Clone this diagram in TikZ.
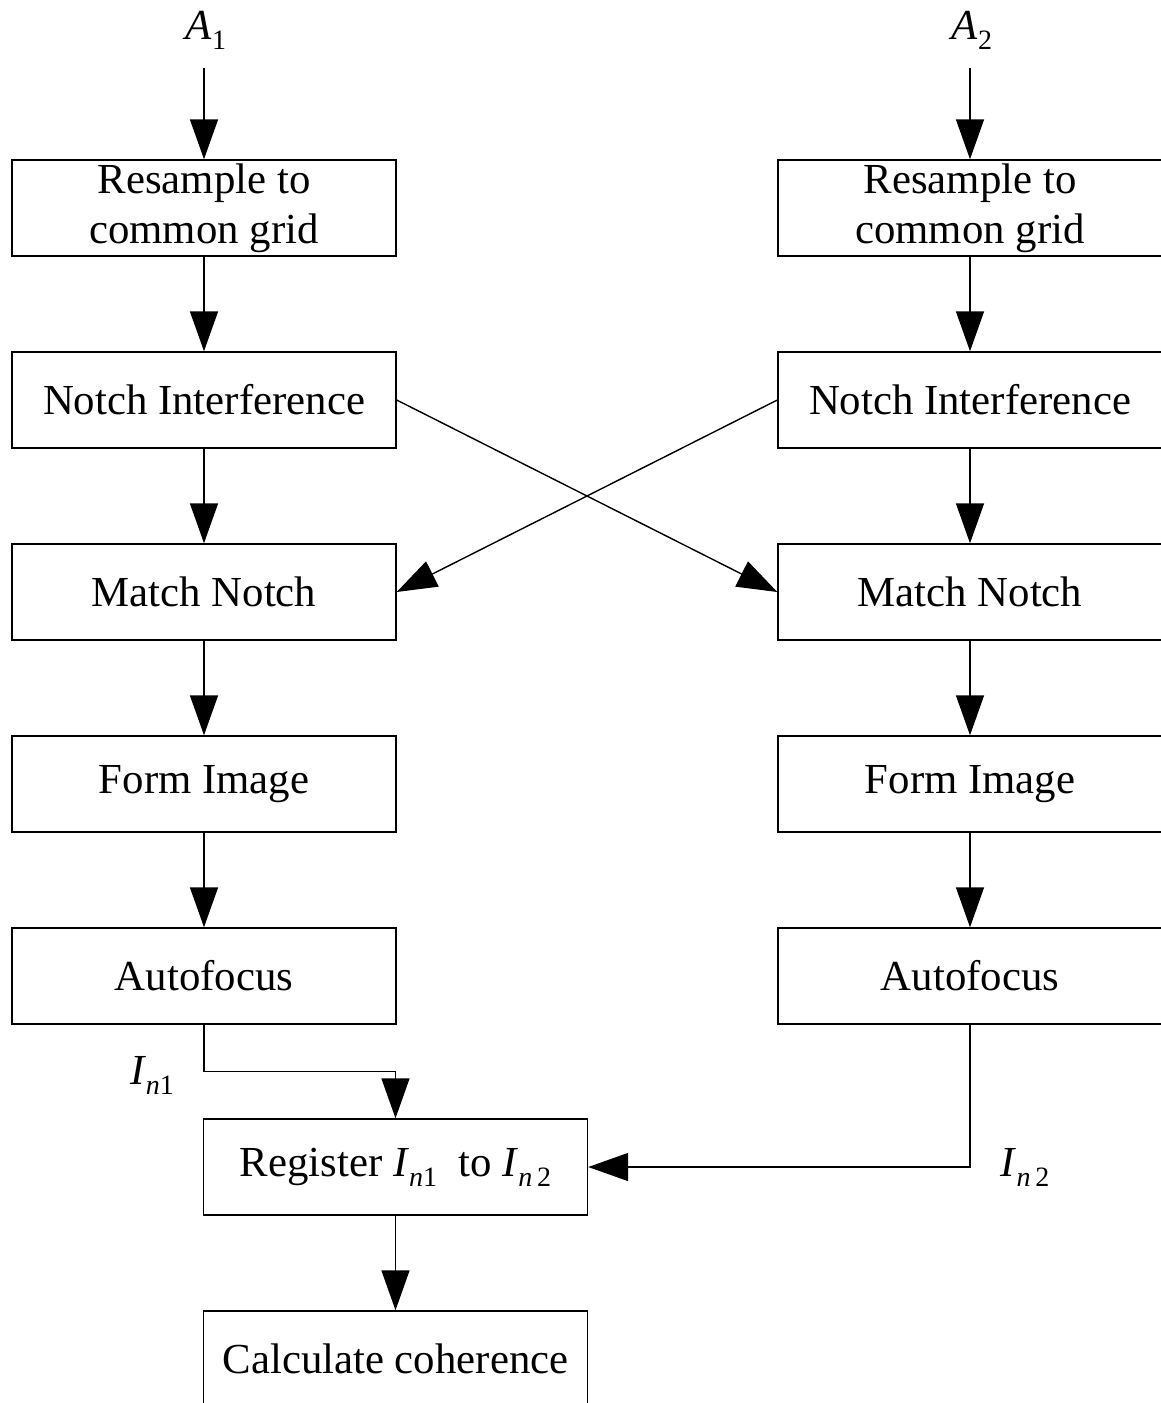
\documentclass[tikz,border=0pt]{standalone}
\usepackage{fontspec}
\setmainfont{Liberation Serif}
\usepackage{xcolor}
\usetikzlibrary{arrows.meta}

% italic symbol with a dropped subscript
\newcommand{\sig}[2]{\textit{#1}\raisebox{-5pt}{\fontsize{14}{14}\selectfont #2}}

\begin{document}
\begin{tikzpicture}[x=0.5pt,y=-0.5pt,
    font=\fontsize{21.4}{25}\selectfont,
    block/.style={draw, line width=0.7pt, minimum width=192pt,
        minimum height=48pt, inner sep=0pt, align=center},
    flow/.style={line width=0.7pt, -{Triangle[length=20pt,width=14pt]}}]
                \useasboundingbox (0,0) rectangle (1161,1403);
                % inputs
                \node (a1) at (206,30) {\sig{A}{1}};
                \node (a2) at (972,30) {\sig{A}{2}};
                % left chain
                \node[block] (res1)   at (204,208) {Resample to\\common grid};
                \node[block] (notch1) at (204,400) {Notch Interference};
                \node[block] (match1) at (204,592) {Match Notch};
                \node[block] (form1)  at (204,784) {Form Image};
                \node[block] (focus1) at (204,976) {Autofocus};
                % right chain
                \node[block] (res2)   at (970,208) {Resample to\\common grid};
                \node[block] (notch2) at (970,400) {Notch Interference};
                \node[block] (match2) at (970,592) {Match Notch};
                \node[block] (form2)  at (970,784) {Form Image};
                \node[block] (focus2) at (970,976) {Autofocus};
                % merge
                \node[block] (reg)  at (395.5,1167) {Register \sig{I}{\textit{n}1}\ \ to \sig{I}{\textit{n}\,2}};
                \node[block] (calc) at (395.5,1359) {Calculate coherence};
                \node (in1) at (152,1075) {\sig{I}{\textit{n}1}};
                \node (in2) at (1025,1167) {\sig{I}{\textit{n}\,2}};

                \draw[flow, shorten <=6pt] (a1.south -| res1) -- (res1);
                \draw[flow, shorten <=6pt] (a2.south -| res2) -- (res2);
                \draw[flow] (res1) -- (notch1);
                \draw[flow] (notch1) -- (match1);
                \draw[flow] (match1) -- (form1);
                \draw[flow] (form1) -- (focus1);
                \draw[flow] (res2) -- (notch2);
                \draw[flow] (notch2) -- (match2);
                \draw[flow] (match2) -- (form2);
                \draw[flow] (form2) -- (focus2);
                \draw[flow] (notch1.east) -- (match2.west);
                \draw[flow] (notch2.west) -- (match1.east);
                \draw[flow] (focus1.south) -- ++(0,47) -| (reg);
                \draw[flow] (focus2) |- (reg);
                \draw[flow] (reg) -- (calc);
            \end{tikzpicture}
\end{document}
